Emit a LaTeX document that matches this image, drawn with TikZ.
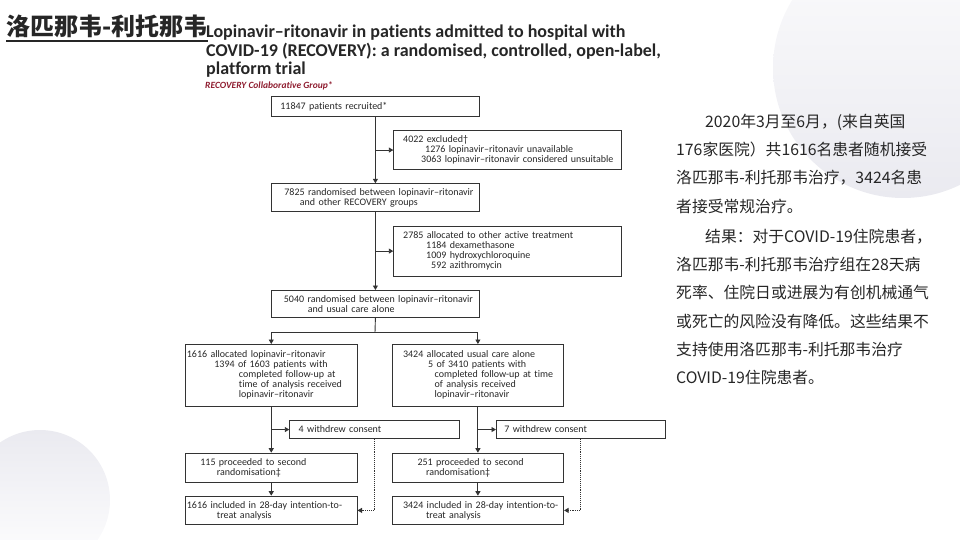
\documentclass[tikz,border=0pt]{standalone}
\usepackage{fontspec}
\setmainfont{Carlito}[Ligatures={NoCommon}]
\newfontfamily\cjk{Noto Sans CJK SC}
\usetikzlibrary{arrows.meta}
\definecolor{inkc}{HTML}{262626}
\definecolor{linec}{HTML}{333333}
\definecolor{circ}{HTML}{EAEAF0}
\definecolor{recred}{HTML}{8E1B2E}
\newcommand\fl[2]{\hspace*{#1pt}\mbox{#2}}
\newcommand\figfont{\fontsize{10}{10}\selectfont}
\begin{document}
\begin{tikzpicture}[x=1pt,y=-1pt,
  fb/.style={draw=linec, line width=0.8pt, anchor=north west, inner xsep=1.5pt, inner ysep=0pt, align=left, font=\figfont, text=inkc},
  arr/.style={draw=linec, line width=0.9pt, -{Triangle[width=5pt,length=4.5pt]}},
  plain/.style={draw=linec, line width=0.9pt},
  dotarr/.style={draw=linec, line width=0.9pt, densely dotted, -{Triangle[width=5pt,length=4.5pt]}}
]
\useasboundingbox (0,0) rectangle (960,540);
% background circles
\shade[top color=circ!15, bottom color=circ] (903,68) circle (130);
\shade[top color=circ, bottom color=white] (40,500) circle (70);

% Chinese title
\node[font=\cjk\bfseries\fontsize{24}{24}\selectfont, anchor=base west, inner sep=0pt, text=inkc] (title) at (6,36) {洛匹那韦-利托那韦};
\draw[line width=1.8pt, inkc] ([yshift=-4.7pt]title.base west) -- ([yshift=-4.7pt]title.base east);

% paper title
\node[anchor=north west, inner sep=0pt, align=left, font=\bfseries\fontsize{18}{18.3}\selectfont, text=inkc] (entitle) at (206,25)
  {Lopinavir–ritonavir in patients admitted to hospital with\\COVID-19 (RECOVERY): a randomised, controlled, open-label,\\platform trial};
\node[anchor=base west, inner sep=0pt, font=\bfseries\itshape\fontsize{9.5}{9.5}\selectfont, text=recred] (group) at (205,89) {RECOVERY Collaborative Group*};

% flowchart boxes
\node[fb, minimum width=208pt, minimum height=20pt, text width=205pt] (b1) at (271,96)
  {\fl{7.5}{11847 patients recruited*}};
\node[fb, minimum width=227.4pt, minimum height=39.3pt, text width=224.4pt] (b2) at (393.3,130)
  {\fl{8}{4022 excluded†}\\\fl{30}{1276 lopinavir–ritonavir unavailable}\\\fl{26}{3063 lopinavir–ritonavir considered unsuitable}};
\node[fb, minimum width=208pt, minimum height=27.4pt, text width=205pt] (b3) at (271,183.3)
  {\fl{11.5}{7825 randomised between lopinavir–ritonavir}\\\fl{27}{and other RECOVERY groups}};
\node[fb, minimum width=227.4pt, minimum height=50pt, text width=224.4pt] (b4) at (393.3,225.7)
  {\fl{8}{2785 allocated to other active treatment}\\\fl{31}{1184 dexamethasone}\\\fl{31}{1009 hydroxychloroquine}\\\fl{36}{592 azithromycin}};
\node[fb, minimum width=208pt, minimum height=27.3pt, text width=205pt] (b5) at (271,290)
  {\fl{11}{5040 randomised between lopinavir–ritonavir}\\\fl{35}{and usual care alone}};
\node[fb, minimum width=171.7pt, minimum height=61.7pt, text width=168.7pt] (b6) at (185,344)
  {\fl{0}{1616 allocated lopinavir–ritonavir}\\\fl{27.5}{1394 of 1603 patients with}\\\fl{52}{completed follow-up at}\\\fl{52}{time of analysis received}\\\fl{52}{lopinavir–ritonavir}};
\node[fb, minimum width=171.6pt, minimum height=61.7pt, text width=168.6pt] (b7) at (391.7,344)
  {\fl{9.5}{3424 allocated usual care alone}\\\fl{34.5}{5 of 3410 patients with}\\\fl{41}{completed follow-up at time}\\\fl{41}{of analysis received}\\\fl{41}{lopinavir–ritonavir}};
\node[fb, minimum width=169.4pt, minimum height=18.3pt, text width=166.4pt] (b8) at (289.3,420)
  {\fl{7.5}{4 withdrew consent}};
\node[fb, minimum width=169pt, minimum height=18.3pt, text width=166pt] (b9) at (496,420)
  {\fl{6.5}{7 withdrew consent}};
\node[fb, minimum width=171.7pt, minimum height=29pt, text width=168.7pt] (b10) at (185,452.7)
  {\fl{13.5}{115 proceeded to second}\\\fl{30}{randomisation‡}};
\node[fb, minimum width=171.6pt, minimum height=29pt, text width=168.6pt] (b11) at (391.7,452.7)
  {\fl{24}{251 proceeded to second}\\\fl{32.5}{randomisation‡}};
\node[fb, minimum width=171.7pt, minimum height=28.6pt, text width=168.7pt] (b12) at (185,495.7)
  {\fl{0}{1616 included in 28-day intention-to-}\\\fl{30}{treat analysis}};
\node[fb, minimum width=171.6pt, minimum height=28.6pt, text width=168.6pt] (b13) at (391.7,495.7)
  {\fl{9.5}{3424 included in 28-day intention-to-}\\\fl{32.5}{treat analysis}};

% connectors
\draw[arr] (b1.south) -- (b3.north);
\draw[arr] (b1.south |- b2.west) -- (b2.west);
\draw[arr] (b3.south) -- (b5.north);
\draw[arr] (b3.south |- b4.west) -- (b4.west);
\coordinate (split) at (375,332.3);
\draw[plain] (b5.south) -- (split);
\draw[arr] (split) -| (b6.north);
\draw[arr] (split) -| (b7.north);
\draw[arr] (b6.south) -- (b10.north);
\draw[arr] (b6.south |- b8.west) -- (b8.west);
\draw[arr] (b7.south) -- (b11.north);
\draw[arr] (b7.south |- b9.west) -- (b9.west);
\draw[arr] (b10.south) -- (b12.north);
\draw[arr] (b11.south) -- (b13.north);
\draw[dotarr] (b8.south) |- (b12.east);
\draw[dotarr] (b9.south) |- (b13.east);

% summary text
\node[anchor=north west, inner sep=0pt, align=left, font=\cjk\fontsize{15.8}{28.3}\selectfont, text=inkc] (summary) at (676,113.7)
  {\hspace*{29pt}2020年3月至6月，(来自英国\\
   176家医院）共1616名患者随机接受\\
   洛匹那韦-利托那韦治疗，3424名患\\
   者接受常规治疗。\\[1.7pt]
   \hspace*{29pt}结果：对于COVID-19住院患者，\\
   洛匹那韦-利托那韦治疗组在28天病\\
   死率、住院日或进展为有创机械通气\\
   或死亡的风险没有降低。这些结果不\\
   支持使用洛匹那韦-利托那韦治疗\\
   COVID-19住院患者。};
\end{tikzpicture}
\end{document}
